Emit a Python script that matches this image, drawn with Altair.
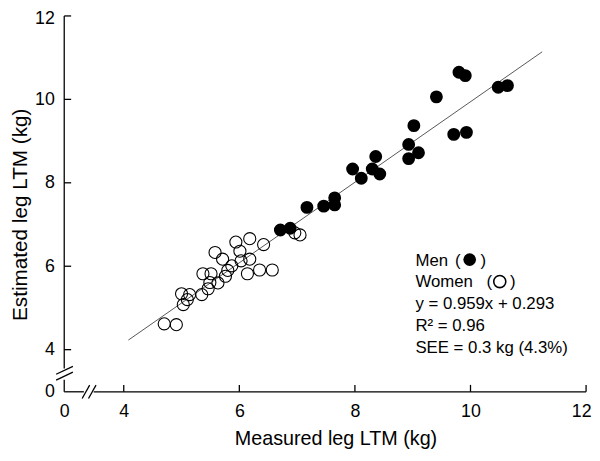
import altair as alt
import pandas as pd

# ---- data ----
men_x = [9.80, 9.91, 10.48, 10.64, 9.41, 9.02, 9.71, 9.93, 8.93, 9.10, 8.93,
         8.36, 7.96, 8.11, 8.30, 8.43, 7.17, 7.46, 7.65, 7.65, 6.71, 6.88]
men_y = [10.65, 10.57, 10.29, 10.33, 10.06, 9.37, 9.16, 9.21, 8.92, 8.72, 8.58,
         8.63, 8.33, 8.11, 8.33, 8.21, 7.41, 7.44, 7.64, 7.47, 6.87, 6.91]

women_x = [4.70, 4.91, 5.03, 5.00, 5.14, 5.10, 5.35, 5.37, 5.51, 5.46, 5.49,
           5.63, 5.76, 5.58, 5.71, 5.80, 5.87, 5.94, 6.01, 6.03, 6.18, 6.18,
           6.42, 6.14, 6.35, 6.57, 6.96, 7.05]
women_y = [4.62, 4.60, 5.08, 5.34, 5.32, 5.20, 5.32, 5.82, 5.82, 5.46, 5.61,
           5.60, 5.76, 6.33, 6.17, 5.90, 6.01, 6.58, 6.36, 6.13, 6.66, 6.17,
           6.52, 5.82, 5.91, 5.91, 6.80, 6.75]

fit_x = [4.08, 11.24]
fit_y = [4.23, 11.14]

x_ticks = [4, 6, 8, 10, 12]
y_ticks = [4, 6, 8, 10, 12]

legend_lines = ["y = 0.959x + 0.293", "R\u00b2 = 0.96", "SEE = 0.3 kg (4.3%)"]

X_MIN = 2.97   # axis origin shown as "0" (broken axis)
Y_MIN = 2.99
W, H = 529, 381
FONT = "Liberation Sans"

xscale = alt.Scale(domain=[X_MIN, 12], nice=False, zero=False)
yscale = alt.Scale(domain=[Y_MIN, 12], nice=False, zero=False)

xaxis = alt.Axis(values=[X_MIN] + x_ticks, labelExpr="datum.value < 3.5 ? '0' : format(datum.value, '.0f')",
                 grid=False, domain=False, ticks=False, labelPadding=11, labelFlush=False,
                 labelOverlap=False, labelFontSize=18, labelFont=FONT, labelColor="black",
                 labelOffset={"condition": {"test": "datum.value >= 12", "value": -5}, "value": 0},
                 title="Measured leg LTM (kg)", titleFontSize=20, titleFont=FONT,
                 titleFontWeight="normal", titleX=275, titleY=47, titleBaseline="middle",
                 titleAlign="center", titleColor="black")
yaxis = alt.Axis(values=[Y_MIN] + y_ticks, labelExpr="datum.value < 3.5 ? '0' : format(datum.value, '.0f')",
                 grid=False, domain=False, ticks=False, labelPadding=10, labelFlush=False,
                 labelOverlap=False, labelFontSize=18, labelFont=FONT, labelColor="black",
                 labelOffset={"condition": {"test": "datum.value >= 12", "value": 3}, "value": 0},
                 title="Estimated leg LTM (kg)", titleFontSize=21, titleFont=FONT,
                 titleFontWeight="normal", titleX=-44, titleY=201, titleAngle=270,
                 titleBaseline="middle", titleAlign="center", titleColor="black")


def X(f):
    return alt.X(f, type="quantitative", scale=xscale, axis=xaxis)


def Y(f):
    return alt.Y(f, type="quantitative", scale=yscale, axis=yaxis)


df_w = pd.DataFrame({"x": women_x, "y": women_y})
df_m = pd.DataFrame({"x": men_x, "y": men_y})
df_fit = pd.DataFrame({"x": [fit_x[0]], "x2": [fit_x[1]], "y": [fit_y[0]], "y2": [fit_y[1]]})

# axis lines with breaks, and the break slashes
df_axis = pd.DataFrame({
    "x":  [X_MIN, 3.48, X_MIN, X_MIN, 3.28, 3.39, 2.83, 2.83],
    "x2": [3.31, 12.0, X_MIN, X_MIN, 3.41, 3.52, 3.12, 3.12],
    "y":  [Y_MIN, Y_MIN, Y_MIN, 3.55, 2.83, 2.83, 3.41, 3.27],
    "y2": [Y_MIN, Y_MIN, 3.28, 12.0, 3.15, 3.15, 3.60, 3.46],
})

axis_lines = alt.Chart(df_axis).mark_rule(color="black", strokeWidth=1.3).encode(
    x=X("x"), x2="x2", y=Y("y"), y2="y2")

xt = alt.Chart(pd.DataFrame({"x": x_ticks})).mark_rule(color="black", strokeWidth=1.3).encode(
    x=X("x"), y=alt.value(H), y2=alt.value(H - 7))
yt = alt.Chart(pd.DataFrame({"y": y_ticks})).mark_rule(color="black", strokeWidth=1.3).encode(
    y=Y("y"), x=alt.value(0), x2=alt.value(7))

fit = alt.Chart(df_fit).mark_rule(color="#444444", strokeWidth=0.9).encode(
    x=X("x"), x2="x2", y=Y("y"), y2="y2")

women = alt.Chart(df_w).mark_point(shape="circle", filled=False, color="black",
                                   strokeWidth=1.1, size=150, opacity=1).encode(x=X("x"), y=Y("y"))
men = alt.Chart(df_m).mark_point(shape="circle", filled=True, color="black",
                                 size=170, opacity=1).encode(x=X("x"), y=Y("y"))


def txt(t, x, y, align="left"):
    return alt.Chart(pd.DataFrame({"t": [t]})).mark_text(
        align=align, baseline="alphabetic", fontSize=17, font=FONT, color="black").encode(
        text="t:N", x=alt.value(x), y=alt.value(y))


LX, LY0, LS = 356, 253, 22.25
legend = [
    txt("Men", LX, LY0), txt("(", LX + 40, LY0), txt(")", LX + 66, LY0),
    txt("Women", LX, LY0 + LS), txt("(", LX + 72, LY0 + LS), txt(")", LX + 96, LY0 + LS),
]
sym_men = alt.Chart(pd.DataFrame({"s": ["Men"]})).mark_point(
    shape="circle", filled=True, color="black", size=165, opacity=1).encode(
    x=alt.value(LX + 55), y=alt.value(LY0 - 6))
sym_women = alt.Chart(pd.DataFrame({"s": ["Women"]})).mark_point(
    shape="circle", filled=False, color="black", strokeWidth=1.6, size=150, opacity=1).encode(
    x=alt.value(LX + 85.5), y=alt.value(LY0 + LS - 6))
for i, t in enumerate(legend_lines):
    legend.append(txt(t, LX, LY0 + LS * (i + 2)))

chart = alt.layer(axis_lines, xt, yt, fit, women, men, sym_men, sym_women, *legend).properties(
    width=W, height=H,
    autosize=alt.AutoSizeParams(type="none"),
    padding={"left": 57, "top": 5, "right": 6, "bottom": 60},
    background="white",
).configure_view(stroke=None)

chart.save("out.html", embed_options={"renderer": "svg", "actions": False})
